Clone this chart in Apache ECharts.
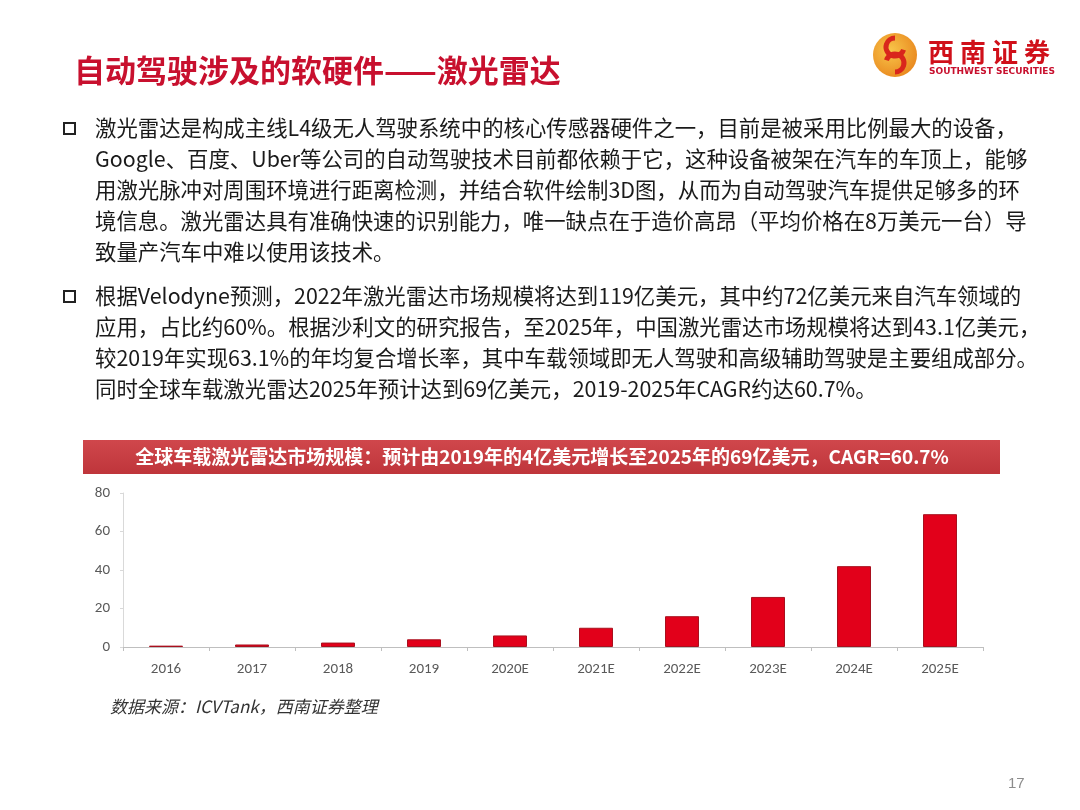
<!DOCTYPE html>
<html>
<head>
<meta charset="utf-8">
<script src="https://cdn.jsdelivr.net/npm/echarts@6/dist/echarts.min.js"></script>
<style>
  html, body { margin: 0; padding: 0; background: #fff; }
  #page { width: 1080px; height: 810px; }
</style>
</head>
<body>
<div id="page"></div>
<script>
const years = ['2016', '2017', '2018', '2019', '2020E', '2021E', '2022E', '2023E', '2024E', '2025E']
const marketSize = [0.7, 1.3, 2.3, 4, 6, 10, 16, 26, 42, 69]
const yTicks = { min: 0, max: 80, interval: 20 }

const pageTitle = '自动驾驶涉及的软硬件——激光雷达'
const logoChars = ['西', '南', '证', '券']
const bannerText = '全球车载激光雷达市场规模：预计由2019年的4亿美元增长至2025年的69亿美元，CAGR=60.7%'
const sourceText = '数据来源：ICVTank，西南证券整理'
const para1 = [
  '激光雷达是构成主线L4级无人驾驶系统中的核心传感器硬件之一，目前是被采用比例最大的设备，',
  'Google、百度、Uber等公司的自动驾驶技术目前都依赖于它，这种设备被架在汽车的车顶上，能够',
  '用激光脉冲对周围环境进行距离检测，并结合软件绘制3D图，从而为自动驾驶汽车提供足够多的环',
  '境信息。激光雷达具有准确快速的识别能力，唯一缺点在于造价高昂（平均价格在8万美元一台）导',
  '致量产汽车中难以使用该技术。',
]
const para2 = [
  '根据Velodyne预测，2022年激光雷达市场规模将达到119亿美元，其中约72亿美元来自汽车领域的',
  '应用，占比约60%。根据沙利文的研究报告，至2025年，中国激光雷达市场规模将达到43.1亿美元，',
  '较2019年实现63.1%的年均复合增长率，其中车载领域即无人驾驶和高级辅助驾驶是主要组成部分。',
  '同时全球车载激光雷达2025年预计达到69亿美元，2019-2025年CAGR约达60.7%。',
]

const cjk = '"Noto Sans CJK SC", "Noto Sans", sans-serif'
const chart = echarts.init(document.getElementById('page'))

// body text lines + square bullets
const textLines = (lines, y0) => lines.map((line, i) => ({
  type: 'text',
  x: 95,
  y: y0 + i * 31,
  style: { text: line, font: `21.4px ${cjk}`, fill: '#1a1a1a', verticalAlign: 'middle' },
}))
const bullet = y => ({
  type: 'rect',
  shape: { x: 64, y: y - 5, width: 11, height: 11 },
  style: { fill: 'none', stroke: '#222', lineWidth: 2 },
})

const graphic = [
  {
    type: 'text',
    x: 74,
    y: 70,
    style: {
      text: pageTitle,
      font: `bold 31px ${cjk}`,
      fill: '#c8102e',
      verticalAlign: 'middle',
      shadowColor: 'rgba(0,0,0,0.25)',
      shadowBlur: 3,
      shadowOffsetX: 1,
      shadowOffsetY: 1,
    },
  },
  // logo
  {
    type: 'circle',
    shape: { cx: 895, cy: 55, r: 22 },
    style: {
      fill: new echarts.graphic.RadialGradient(0.4, 0.4, 0.7, [
        { offset: 0, color: '#f8c64a' },
        { offset: 1, color: '#e8841c' },
      ]),
    },
  },
  {
    type: 'arc',
    shape: { cx: 895, cy: 47, r: 9, startAngle: Math.PI * 0.1, endAngle: Math.PI * 1.5, clockwise: true },
    style: { stroke: '#d9261c', lineWidth: 5, fill: 'none' },
  },
  {
    type: 'arc',
    shape: { cx: 895, cy: 63, r: 9, startAngle: Math.PI * 1.1, endAngle: Math.PI * 0.5, clockwise: true },
    style: { stroke: '#d9261c', lineWidth: 5, fill: 'none' },
  },
  ...logoChars.map((ch, i) => ({
    type: 'text',
    x: 928 + i * 32,
    y: 52,
    style: { text: ch, font: `bold 26px ${cjk}`, fill: '#d0101a', verticalAlign: 'middle' },
  })),
  {
    type: 'text',
    x: 929,
    y: 72,
    style: { text: 'SOUTHWEST SECURITIES', font: 'bold 9px "DejaVu Sans", sans-serif', fill: '#c8102e', verticalAlign: 'middle' },
  },
  bullet(128),
  ...textLines(para1, 128),
  bullet(296),
  ...textLines(para2, 296),
  // chart banner
  {
    type: 'rect',
    shape: { x: 83, y: 440, width: 917, height: 34 },
    style: {
      fill: new echarts.graphic.LinearGradient(0, 0, 0, 1, [
        { offset: 0, color: '#d0474c' },
        { offset: 1, color: '#bf353b' },
      ]),
    },
  },
  {
    type: 'text',
    x: 542,
    y: 457,
    style: {
      text: bannerText,
      font: `bold 19px ${cjk}`,
      fill: '#fff',
      align: 'center',
      verticalAlign: 'middle',
    },
  },
  {
    type: 'text',
    x: 110,
    y: 707,
    style: { text: sourceText, font: `italic 17px ${cjk}`, fill: '#333', verticalAlign: 'middle' },
  },
  {
    type: 'text',
    x: 1008,
    y: 784,
    style: { text: '17', font: '15px "Liberation Sans", sans-serif', fill: '#8c8c8c', verticalAlign: 'middle' },
  },
]

chart.setOption({
  animation: false,
  backgroundColor: '#fff',
  grid: { left: 123, right: 97, top: 493, bottom: 163 },
  xAxis: {
    type: 'category',
    data: years,
    axisLine: { lineStyle: { color: '#bfbfbf' } },
    axisTick: { show: true, length: 4, lineStyle: { color: '#bfbfbf' } },
    axisLabel: { color: '#595959', fontSize: 15, margin: 15, fontFamily: 'Carlito, Calibri, "Liberation Sans", sans-serif' },
  },
  yAxis: {
    type: 'value',
    min: yTicks.min,
    max: yTicks.max,
    interval: yTicks.interval,
    axisLine: { show: true, lineStyle: { color: '#d9d9d9' } },
    axisTick: { show: true, length: 3, lineStyle: { color: '#d9d9d9' } },
    splitLine: { show: false },
    axisLabel: { color: '#595959', fontSize: 15, margin: 13, fontFamily: 'Carlito, Calibri, "Liberation Sans", sans-serif' },
  },
  series: [
    {
      type: 'bar',
      data: marketSize,
      barWidth: 34,
      itemStyle: { color: '#e2001a', borderColor: '#a8101e', borderWidth: 1 },
    },
  ],
  graphic,
})
</script>
</body>
</html>
